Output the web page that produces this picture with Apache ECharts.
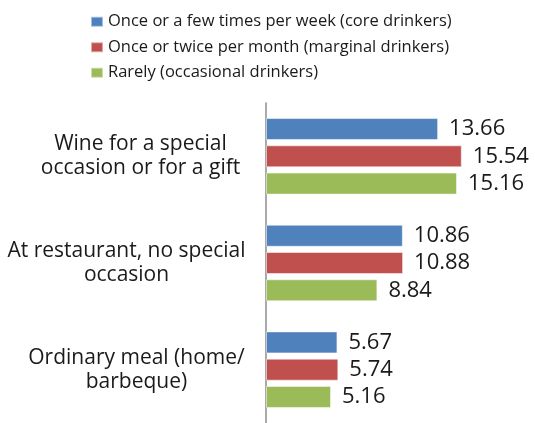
<!DOCTYPE html>
<html>
<head>
<meta charset="utf-8">
<script src="https://cdn.jsdelivr.net/npm/echarts@6/dist/echarts.min.js"></script>
<style>
  html, body { margin: 0; padding: 0; background: #fff; }
  #chart { width: 535px; height: 423px; }
</style>
</head>
<body>
<div id="chart"></div>
<script>
// occasions, top to bottom
var categories = [
  'Wine for a special\noccasion or for a gift',
  'At restaurant, no special\noccasion',
  'Ordinary meal (home/\nbarbeque)'
];
var seriesNames = [
  'Once or a few times per week (core drinkers)',
  'Once or twice per month (marginal drinkers)',
  'Rarely (occasional drinkers)'
];
var coreValues = [13.66, 10.86, 5.67];
var marginalValues = [15.54, 10.88, 5.74];
var occasionalValues = [15.16, 8.84, 5.16];

var colors = ['#4F81BD', '#C0504D', '#9BBB59'];
var font = '"Open Sans", Lato, sans-serif';

var chart = echarts.init(document.getElementById('chart'));

function makeSeries(name, values, color) {
  return {
    name: name,
    type: 'bar',
    data: values,
    barWidth: 22,
    barGap: '24%',
    itemStyle: { color: color, borderColor: 'rgba(255,255,255,0.5)', borderWidth: 1 },
    label: {
      show: true,
      position: 'right',
      distance: 11,
      fontFamily: font,
      fontSize: 22,
      color: '#1a1a1a',
      formatter: function (p) { return p.value.toFixed(2); }
    }
  };
}

var option = {
  animation: false,
  color: colors,
  legend: {
    orient: 'vertical',
    left: 90,
    top: 12,
    padding: 0,
    itemWidth: 12,
    itemHeight: 10,
    itemGap: 6,
    icon: 'rect',
    textStyle: { fontFamily: font, fontSize: 16.5, color: '#1a1a1a', lineHeight: 19.5 },
    data: seriesNames
  },
  grid: { left: 266, top: 103, height: 328, right: 17 },
  xAxis: {
    type: 'value',
    min: 0,
    max: 20,
    show: false
  },
  yAxis: {
    type: 'category',
    inverse: true,
    data: categories,
    axisLine: { show: true, lineStyle: { color: '#8c8c8c', width: 1.5 } },
    axisTick: { show: false },
    axisLabel: {
      margin: 22,
      align: 'right',
      formatter: function (v, i) {
        var key = 'c' + i;
        return v.split('\n').map(function (s) { return '{' + key + '|' + s + '}'; }).join('\n');
      },
      rich: {
        c0: { width: 207, align: 'center', fontFamily: font, fontSize: 21, lineHeight: 24, color: '#1a1a1a' },
        c1: { width: 235, align: 'center', fontFamily: font, fontSize: 21, lineHeight: 24, color: '#1a1a1a' },
        c2: { width: 215, align: 'center', fontFamily: font, fontSize: 21, lineHeight: 24, color: '#1a1a1a' }
      }
    }
  },
  series: [
    makeSeries(seriesNames[0], coreValues, colors[0]),
    makeSeries(seriesNames[1], marginalValues, colors[1]),
    makeSeries(seriesNames[2], occasionalValues, colors[2])
  ]
};

chart.setOption(option);
</script>
</body>
</html>
